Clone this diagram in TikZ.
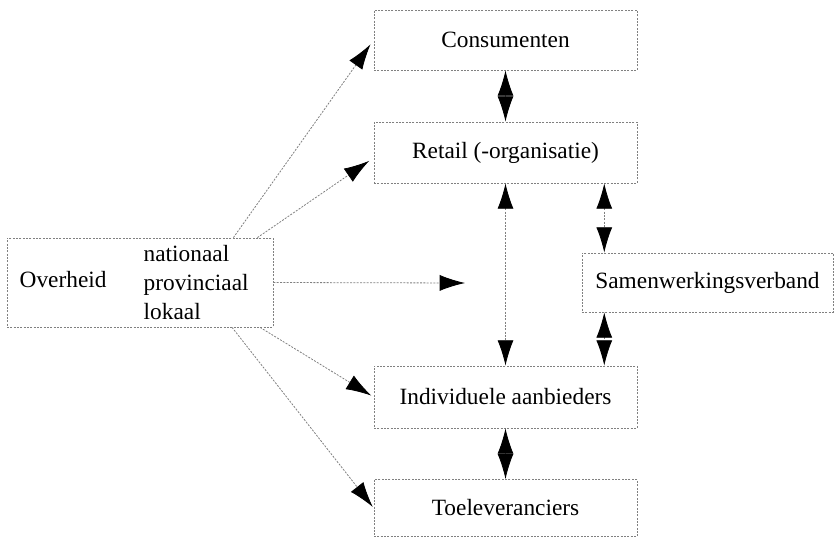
\documentclass[tikz,border=0pt]{standalone}
\usepackage{fontspec}
\setmainfont{Liberation Serif}
\usetikzlibrary{arrows.meta}
\begin{document}
\begin{tikzpicture}[x=0.75pt, y=-0.75pt,
  every node/.style={font=\fontsize{17.5}{21.75}\selectfont},
  box/.style={draw=gray, dash pattern=on 1.5pt off 1pt, line width=0.6pt, minimum width=197.25pt, minimum height=45pt, inner sep=0pt},
  link/.style={draw=gray, dash pattern=on 1.5pt off 1pt, line width=0.6pt, -{Latex[length=19pt,width=12pt,color=black]}},
  both/.style={link, {Latex[length=19pt,width=12pt,color=black]}-{Latex[length=19pt,width=12pt,color=black]}}]
  \useasboundingbox (0,0) rectangle (834,538);
  \node[box] (consumenten) at (505.5,40) {Consumenten};
  \node[box, minimum height=45.75pt] (retail) at (505.5,152.5) {Retail (-organisatie)};
  \node[box, minimum height=46.5pt] (aanbieders) at (505.5,397) {Individuele aanbieders};
  \node[box, minimum height=42.75pt] (toeleveranciers) at (505.5,508) {Toeleveranciers};
  \node[box, minimum width=188.25pt, minimum height=44.25pt] (samenwerking) at (707.5,282.5) {Samenwerkingsverband};
  \node[box, minimum width=199.5pt, minimum height=66.75pt] (overheid) at (140,282.5) {};
  \node[anchor=west] (overheidnaam) at (15,280) {Overheid};
  \node[anchor=west, align=left] (niveaus) at (139,283) {nationaal\\provinciaal\\lokaal};
  \coordinate (midden) at (465,283);
  \coordinate (svboven) at ([xshift=17pt]samenwerking.north west);
  \coordinate (svonder) at ([xshift=17pt]samenwerking.south west);
  \draw[link, shorten >=4pt] ([xshift=-30pt]overheid.north east) -- (consumenten.west);
  \draw[link, shorten >=4pt] ([xshift=-12pt]overheid.north east) -- ([yshift=-4pt]retail.west);
  \draw[link, shorten >=2pt] ([xshift=-10pt]overheid.south east) -- (aanbieders.west);
  \draw[link, shorten >=1pt] ([xshift=-31pt]overheid.south east) -- (toeleveranciers.west);
  \draw[link] (overheid.east) -- (midden);
  \draw[both] (consumenten) -- (retail);
  \draw[both] (retail) -- (aanbieders);
  \draw[both] (aanbieders) -- (toeleveranciers);
  \draw[both] (retail.south -| svboven) -- (svboven);
  \draw[both] (svonder) -- (aanbieders.north -| svonder);
\end{tikzpicture}
\end{document}
